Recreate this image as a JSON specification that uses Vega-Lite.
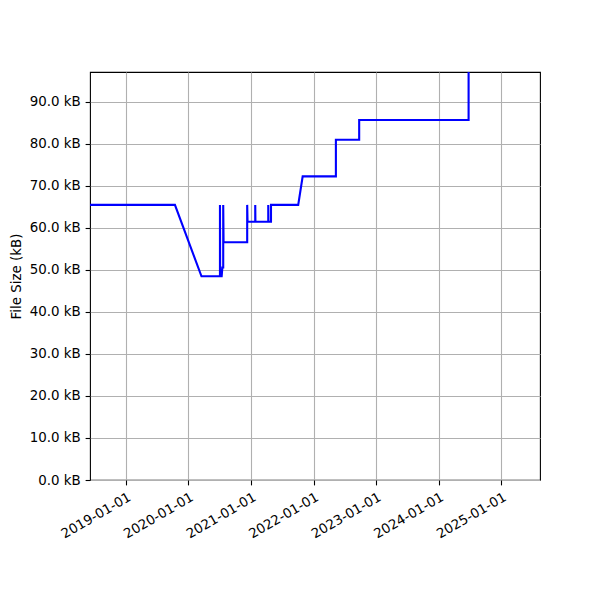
{
  "$schema": "https://vega.github.io/schema/vega-lite/v6.json",
  "autosize": {"type": "none"},
  "width": 450,
  "height": 408,
  "padding": {"left": 90, "top": 72, "right": 60, "bottom": 120},
  "background": "white",
  "config": {
    "font": "DejaVu Sans",
    "view": {"stroke": "black", "strokeWidth": 1.1},
    "axis": {
      "labelFont": "DejaVu Sans",
      "titleFont": "DejaVu Sans",
      "labelFontSize": 13.4,
      "titleFontSize": 13.4,
      "titleFontWeight": "normal",
      "labelColor": "black",
      "titleColor": "black",
      "tickColor": "black",
      "tickSize": 4.9,
      "tickWidth": 1.1,
      "labelPadding": 4.9,
      "domain": false,
      "gridColor": "#b0b0b0",
      "gridWidth": 1.1,
      "gridOpacity": 1
    }
  },
  "data": {
    "values": [
      {"i": 1, "date": "2018-06-05", "kb": 65.5},
      {"i": 2, "date": "2019-10-14", "kb": 65.5},
      {"i": 3, "date": "2020-03-17", "kb": 48.5},
      {"i": 4, "date": "2020-07-03", "kb": 48.5},
      {"i": 5, "date": "2020-07-03", "kb": 65.5},
      {"i": 6, "date": "2020-07-04", "kb": 48.5},
      {"i": 7, "date": "2020-07-13", "kb": 48.5},
      {"i": 8, "date": "2020-07-17", "kb": 50.6},
      {"i": 9, "date": "2020-07-22", "kb": 50.6},
      {"i": 10, "date": "2020-07-22", "kb": 65.5},
      {"i": 11, "date": "2020-07-24", "kb": 56.6},
      {"i": 12, "date": "2020-12-09", "kb": 56.6},
      {"i": 13, "date": "2020-12-09", "kb": 65.5},
      {"i": 14, "date": "2020-12-11", "kb": 61.5},
      {"i": 15, "date": "2021-01-25", "kb": 61.5},
      {"i": 16, "date": "2021-01-25", "kb": 65.5},
      {"i": 17, "date": "2021-01-26", "kb": 61.5},
      {"i": 18, "date": "2021-04-11", "kb": 61.5},
      {"i": 19, "date": "2021-04-11", "kb": 65.5},
      {"i": 20, "date": "2021-04-12", "kb": 61.5},
      {"i": 21, "date": "2021-04-27", "kb": 61.5},
      {"i": 22, "date": "2021-04-27", "kb": 65.5},
      {"i": 23, "date": "2021-10-03", "kb": 65.5},
      {"i": 24, "date": "2021-10-29", "kb": 72.3},
      {"i": 25, "date": "2022-05-11", "kb": 72.3},
      {"i": 26, "date": "2022-05-11", "kb": 81.0},
      {"i": 27, "date": "2022-09-24", "kb": 81.0},
      {"i": 28, "date": "2022-09-24", "kb": 85.7},
      {"i": 29, "date": "2024-06-24", "kb": 85.7},
      {"i": 30, "date": "2024-06-24", "kb": 130}
    ]
  },
  "mark": {"type": "line", "color": "#0000ff", "strokeWidth": 2.1, "clip": true},
  "encoding": {
    "x": {
      "field": "date",
      "type": "temporal",
      "scale": {
        "type": "utc",
        "domain": [
          {"year": 2018, "month": 6, "date": 5, "utc": true},
          {"year": 2025, "month": 8, "date": 15, "utc": true}
        ]
      },
      "axis": {
        "title": null,
        "values": [
          {"year": 2019, "month": 1, "date": 1, "utc": true},
          {"year": 2020, "month": 1, "date": 1, "utc": true},
          {"year": 2021, "month": 1, "date": 1, "utc": true},
          {"year": 2022, "month": 1, "date": 1, "utc": true},
          {"year": 2023, "month": 1, "date": 1, "utc": true},
          {"year": 2024, "month": 1, "date": 1, "utc": true},
          {"year": 2025, "month": 1, "date": 1, "utc": true}
        ],
        "labelExpr": "utcFormat(datum.value, '%Y-%m-%d')",
        "labelAngle": -30,
        "labelAlign": "right",
        "labelBaseline": "top",
        "labelFlush": false,
        "labelOverlap": false
      }
    },
    "y": {
      "field": "kb",
      "type": "quantitative",
      "scale": {"domain": [0, 97.14], "nice": false, "zero": true},
      "axis": {
        "title": "File Size (kB)",
        "values": [0, 10, 20, 30, 40, 50, 60, 70, 80, 90],
        "labelExpr": "format(datum.value, '.1f') + ' kB'",
        "titlePadding": 6,
        "labelFlush": false
      }
    },
    "order": {"field": "i", "type": "quantitative"}
  }
}
